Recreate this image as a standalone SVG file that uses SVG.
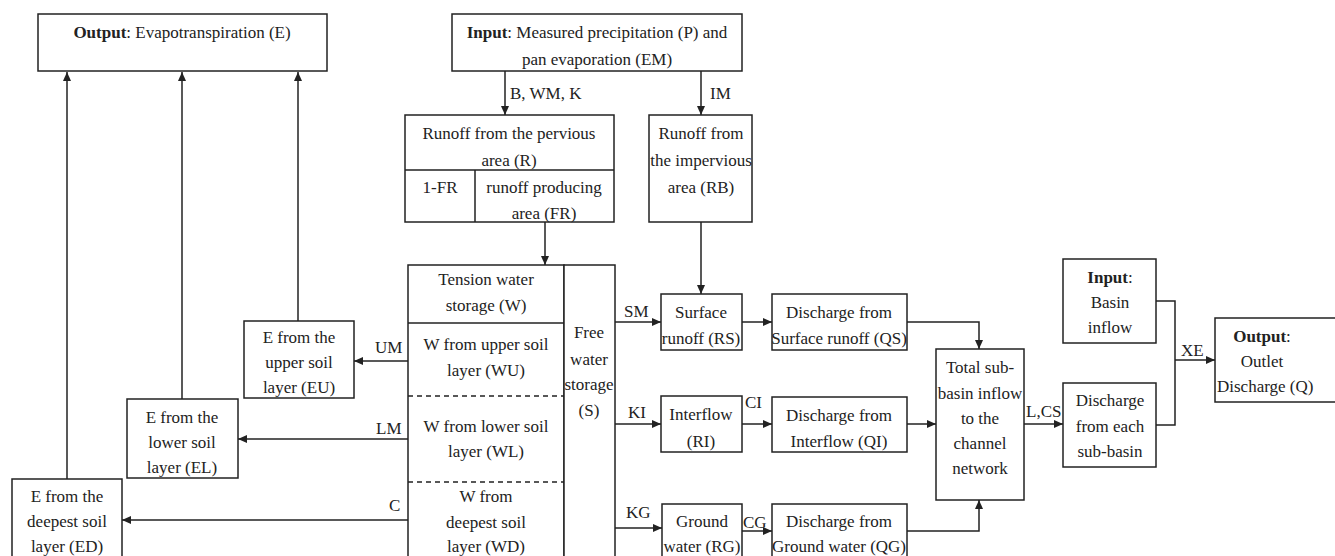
<svg xmlns="http://www.w3.org/2000/svg" width="1335" height="556" viewBox="0 0 1335 556" font-family="'Liberation Serif', 'DejaVu Serif', serif" font-size="17">
<defs>
<marker id="ah" markerUnits="userSpaceOnUse" markerWidth="9" markerHeight="8" refX="9" refY="4" orient="auto"><path d="M0,0 L9,4 L0,8 z" fill="#222"/></marker>
<style>
.b{fill:#fff;stroke:#222;stroke-width:1.5}
.l{fill:none;stroke:#222;stroke-width:1.5}
.d{fill:none;stroke:#222;stroke-width:1.3;stroke-dasharray:5,4}
.c{fill:none;stroke:#222;stroke-width:1.5;marker-end:url(#ah)}
text{fill:#222}
.m{text-anchor:middle}
.bo{font-weight:bold}
</style>
</defs>
<rect width="1335" height="556" fill="#fff"/>
<g id="connectors">
<path class="c" d="M67,479 V72"/>
<path class="c" d="M182,399 V72"/>
<path class="c" d="M298,321 V72"/>
<path class="c" d="M505,71 V115"/>
<path class="c" d="M701,71 V115"/>
<path class="c" d="M545,222 V265"/>
<path class="c" d="M701,222 V294"/>
<path class="c" d="M408,361 H354"/>
<path class="c" d="M408,439 H238"/>
<path class="c" d="M408,520 H122"/>
<path class="c" d="M615,322 H661"/>
<path class="c" d="M615,424 H661"/>
<path class="c" d="M615,528 H662"/>
<path class="c" d="M742,322 H772"/>
<path class="c" d="M742,424 H772"/>
<path class="c" d="M742,531 H772"/>
<path class="c" d="M907,322 H979 V349"/>
<path class="c" d="M907,424 H936"/>
<path class="c" d="M907,531 H979 V500"/>
<path class="c" d="M1024,424 H1063"/>
<path class="l" d="M1156,301 H1175 V425 H1156"/>
<path class="c" d="M1175,360 H1215"/>
<text x="510" y="99">B, WM, K</text>
<text x="710" y="99">IM</text>
<text x="375" y="353">UM</text>
<text x="376" y="434">LM</text>
<text x="389" y="511">C</text>
<text x="624" y="317">SM</text>
<text x="628" y="418">KI</text>
<text x="626" y="518">KG</text>
<text x="745" y="408">CI</text>
<text x="743" y="528">CG</text>
<text x="1026" y="417">L,CS</text>
<text x="1181" y="356">XE</text>
</g>
<g id="output-e">
<rect class="b" x="38" y="14" width="289" height="57"/>
<text class="m" x="182" y="38"><tspan class="bo">Output</tspan>: Evapotranspiration (E)</text>
</g>
<g id="input-p">
<rect class="b" x="452" y="14" width="290" height="57"/>
<text class="m" x="597" y="38"><tspan class="bo">Input</tspan>: Measured precipitation (P) and</text>
<text class="m" x="597" y="65">pan evaporation (EM)</text>
</g>
<g id="runoff-pervious">
<rect class="b" x="405" y="115" width="209" height="107"/>
<path class="l" d="M405,170 H614 M475,170 V222"/>
<text class="m" x="509" y="139">Runoff from the pervious</text>
<text class="m" x="509" y="166">area (R)</text>
<text class="m" x="440" y="193">1-FR</text>
<text class="m" x="544" y="193">runoff producing</text>
<text class="m" x="544" y="219">area (FR)</text>
</g>
<g id="runoff-impervious">
<rect class="b" x="649" y="115" width="103" height="107"/>
<text class="m" x="701" y="139">Runoff from</text>
<text class="m" x="701" y="166">the impervious</text>
<text class="m" x="701" y="193">area (RB)</text>
</g>
<g id="tension-water">
<rect class="b" x="408" y="265" width="156" height="320"/>
<path class="l" d="M408,323 H564"/>
<path class="d" d="M408,396 H564 M408,482 H564"/>
<text class="m" x="486" y="285">Tension water</text>
<text class="m" x="486" y="311">storage (W)</text>
<text class="m" x="486" y="350">W from upper soil</text>
<text class="m" x="486" y="376">layer (WU)</text>
<text class="m" x="486" y="432">W from lower soil</text>
<text class="m" x="486" y="457">layer (WL)</text>
<text class="m" x="486" y="502">W from</text>
<text class="m" x="486" y="528">deepest soil</text>
<text class="m" x="486" y="552">layer (WD)</text>
</g>
<g id="free-water">
<rect class="b" x="564" y="265" width="51" height="320"/>
<text class="m" x="589" y="338">Free</text>
<text class="m" x="589" y="365">water</text>
<text class="m" x="589" y="390">storage</text>
<text class="m" x="589" y="416">(S)</text>
</g>
<g id="e-upper">
<rect class="b" x="244" y="321" width="110" height="77"/>
<text class="m" x="299" y="343">E from the</text>
<text class="m" x="299" y="368">upper soil</text>
<text class="m" x="299" y="393">layer (EU)</text>
</g>
<g id="e-lower">
<rect class="b" x="127" y="399" width="111" height="79"/>
<text class="m" x="182" y="423">E from the</text>
<text class="m" x="182" y="448">lower soil</text>
<text class="m" x="182" y="473">layer (EL)</text>
</g>
<g id="e-deepest">
<rect class="b" x="12" y="479" width="110" height="100"/>
<text class="m" x="67" y="502">E from the</text>
<text class="m" x="67" y="527">deepest soil</text>
<text class="m" x="67" y="552">layer (ED)</text>
</g>
<g id="surface-runoff">
<rect class="b" x="661" y="294" width="81" height="56"/>
<text class="m" x="701" y="318">Surface</text>
<text class="m" x="701" y="344">runoff (RS)</text>
</g>
<g id="interflow">
<rect class="b" x="661" y="396" width="81" height="56"/>
<text class="m" x="701" y="420">Interflow</text>
<text class="m" x="701" y="447">(RI)</text>
</g>
<g id="ground-water">
<rect class="b" x="662" y="504" width="80" height="80"/>
<text class="m" x="702" y="527">Ground</text>
<text class="m" x="702" y="552">water (RG)</text>
</g>
<g id="discharge-qs">
<rect class="b" x="772" y="294" width="135" height="56"/>
<text class="m" x="839" y="318">Discharge from</text>
<text class="m" x="839" y="344">Surface runoff (QS)</text>
</g>
<g id="discharge-qi">
<rect class="b" x="772" y="397" width="135" height="55"/>
<text class="m" x="839" y="421">Discharge from</text>
<text class="m" x="839" y="447">Interflow (QI)</text>
</g>
<g id="discharge-qg">
<rect class="b" x="772" y="504" width="135" height="80"/>
<text class="m" x="839" y="527">Discharge from</text>
<text class="m" x="839" y="552">Ground water (QG)</text>
</g>
<g id="total-inflow">
<rect class="b" x="936" y="349" width="88" height="151"/>
<text class="m" x="980" y="373">Total sub-</text>
<text class="m" x="980" y="399">basin inflow</text>
<text class="m" x="980" y="424">to the</text>
<text class="m" x="980" y="449">channel</text>
<text class="m" x="980" y="474">network</text>
</g>
<g id="discharge-subbasin">
<rect class="b" x="1063" y="383" width="93" height="84"/>
<text class="m" x="1110" y="406">Discharge</text>
<text class="m" x="1110" y="432">from each</text>
<text class="m" x="1110" y="457">sub-basin</text>
</g>
<g id="input-basin">
<rect class="b" x="1063" y="259" width="93" height="84"/>
<text class="m" x="1110" y="283"><tspan class="bo">Input</tspan>:</text>
<text class="m" x="1110" y="308">Basin</text>
<text class="m" x="1110" y="333">inflow</text>
</g>
<g id="output-q">
<rect class="b" x="1215" y="318" width="140" height="84"/>
<text class="m" x="1262" y="342"><tspan class="bo">Output</tspan>:</text>
<text class="m" x="1262" y="367">Outlet</text>
<text x="1217" y="392">Discharge (Q)</text>
</g>
</svg>
